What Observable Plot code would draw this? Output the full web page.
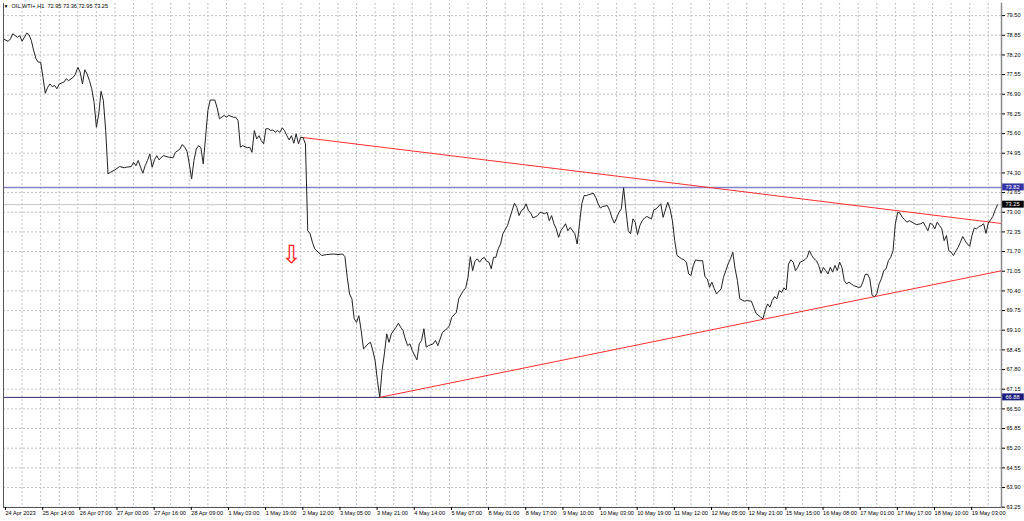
<!DOCTYPE html>
<html><head><meta charset="utf-8">
<script src="https://cdn.jsdelivr.net/npm/d3@7"></script>
<script src="https://cdn.jsdelivr.net/npm/@observablehq/plot@0.6"></script>
<style>
html,body{margin:0;padding:0;background:#fff;}
svg{display:block}
</style></head><body><div id="chart"></div>
<script>
// ---- data (hourly bars, OIL.WTI+ H1) ----
const bars = [0,2,3,4,6,7,8,10,11,12,13,14,15,16,17,18,19,20,21,22,23,24,26,27,28,30,31,32,33,34,35,36,37,38,39,40,41,42,43,44,45,46,48,50,52,53,55,56,57,58,59,60,61,62,63,64,65,66,67,68,69,71,73,74,76,77,78,79,80,81,82,83,84,85,86,87,88,89,91,92,93,95,96,97,99,100,101,102,103,105,106,107,108,109,110,111,112,113,114,115,116,117,118,119,120,121,122,123,124,125,126,127,128,129,130,131,132,133,134,137,139,142,144,146,147,148,149,150,151,152,153,154,155,157,158,159,160,161,162,163,164,165,166,167,169,170,171,172,173,174,175,176,178,179,180,181,182,183,185,186,187,188,189,191,192,193,195,196,198,199,200,201,202,203,204,205,206,207,208,209,210,211,212,213,214,215,217,218,219,220,221,222,223,224,225,226,227,228,230,231,233,234,235,236,237,238,239,240,241,242,243,244,246,247,248,249,250,251,252,254,255,256,257,258,260,261,262,263,264,265,266,267,268,269,270,271,272,273,274,275,276,277,279,280,281,283,284,286,287,288,289,290,292,293,294,295,296,297,298,299,300,301,302,303,304,305,306,307,309,310,311,312,313,314,315,316,317,318,319,320,322,323,324,326,327,328,329,330,331,332,333,334,335,336,337,338,339,340,341,342,343,344,345,346,347,348,349,350,351,352,353,354,355,356,357,358,359,360,361,362,363,364,365,366,368,369,370,371,372,373,374,375,376,377,378,379,380,381,382,383,384,385,386,387,388,389,390,392,393,395,396,397,398,399,400,401,402,403,404,405,406,407,408,409,410,411,412,413,414,415,416,417,418,419,420,421,422,423,424,425,426,427,428];
const closes = [78.73,78.65,78.73,78.90,78.78,78.84,78.65,78.92,78.87,78.67,78.34,78.07,77.96,77.96,77.46,76.93,77.13,77.24,77.15,77.19,77.08,77.24,77.30,77.41,77.35,77.46,77.57,77.79,77.63,77.24,77.71,77.57,77.35,77.08,76.63,75.81,76.25,77.00,76.69,75.70,74.27,74.32,74.40,74.51,74.47,74.49,74.51,74.65,74.54,74.71,74.49,74.29,74.54,74.71,74.93,74.49,74.73,74.87,74.73,74.82,74.87,74.82,74.80,74.98,75.09,75.24,75.15,75.02,74.60,74.10,74.71,75.09,75.20,75.13,74.60,75.48,76.36,76.71,76.71,76.45,76.09,76.20,76.14,76.20,76.14,76.14,76.03,75.15,75.20,75.13,75.15,74.98,75.70,75.42,75.53,75.37,75.26,75.76,75.76,75.70,75.72,75.64,75.70,75.64,75.79,75.70,75.53,75.39,75.53,75.28,75.59,75.26,75.48,75.46,75.26,72.39,72.29,72.01,71.79,71.57,71.60,71.62,71.60,71.62,71.53,70.85,70.30,70.14,69.48,69.36,69.58,69.09,68.48,68.65,68.70,68.43,68.10,67.44,66.88,67.77,68.32,68.98,68.70,68.98,69.20,69.33,69.20,69.09,68.81,68.59,68.65,68.43,68.12,68.65,68.76,69.15,68.54,68.59,68.65,68.76,68.59,68.81,69.03,69.15,69.25,69.53,69.69,70.14,70.41,70.50,70.85,71.53,71.07,71.38,71.46,71.35,71.46,71.51,71.38,71.35,71.13,71.51,71.51,71.79,71.95,72.29,72.56,72.81,73.06,73.30,73.16,72.89,73.06,73.11,73.28,73.06,72.97,72.81,72.89,73.00,72.95,73.00,72.72,72.89,72.62,72.45,72.17,72.39,72.50,72.62,72.39,72.50,72.29,71.95,72.62,73.28,73.55,73.55,73.58,73.63,73.49,73.28,73.14,73.19,73.22,73.06,72.81,72.64,72.81,73.00,73.11,73.81,73.06,72.39,72.29,72.78,72.67,72.26,72.56,72.72,72.81,72.86,72.78,73.08,73.11,73.28,72.83,73.33,73.11,72.72,72.06,71.57,71.46,71.43,71.35,70.96,70.91,71.24,71.43,71.40,71.40,71.40,70.87,70.80,70.52,70.69,70.47,70.30,70.47,70.85,71.07,71.29,71.46,71.68,71.13,70.74,70.14,70.10,70.06,70.08,70.06,69.86,69.66,69.53,69.48,69.77,69.97,69.86,70.08,70.21,70.14,70.41,70.35,70.50,70.43,71.29,71.43,71.35,71.07,71.18,71.35,71.38,71.43,71.51,71.73,71.57,71.46,71.40,71.24,70.98,71.18,71.07,70.96,71.18,71.02,71.24,71.07,71.35,71.18,70.74,70.63,70.69,70.63,70.58,70.52,70.52,70.69,70.94,70.96,70.80,70.25,70.21,70.30,70.63,70.80,71.07,71.13,71.40,71.51,71.73,72.62,73.00,72.97,72.83,72.75,72.67,72.72,72.64,72.59,72.62,72.67,72.53,72.39,72.64,72.59,72.45,72.67,72.56,72.45,72.06,72.23,71.73,71.68,71.57,71.71,71.84,72.01,72.20,72.06,71.95,71.87,72.23,72.48,72.45,72.53,72.56,72.62,72.30,72.64,72.75,72.86,73.08,73.25];

const xTickBars = [0,16,32,48,64,80,96,112,128,144,160,176,192,208,224,240,256,272,288,304,320,336,352,368,384,400,416];
const xTickLabels = ["24 Apr 2023","25 Apr 14:00","26 Apr 07:00","27 Apr 00:00","27 Apr 16:00","28 Apr 09:00","1 May 03:00","1 May 19:00","2 May 12:00","3 May 05:00","3 May 21:00","4 May 14:00","5 May 07:00","8 May 01:00","8 May 17:00","9 May 10:00","10 May 03:00","10 May 19:00","11 May 12:00","12 May 05:00","12 May 21:00","15 May 15:00","16 May 08:00","17 May 01:00","17 May 17:00","18 May 10:00","19 May 03:00"];
const yTicks = [63.25,63.90,64.55,65.20,65.85,66.50,67.15,67.80,68.45,69.10,69.75,70.40,71.05,71.70,72.35,73.00,73.65,74.30,74.95,75.60,76.25,76.90,77.55,78.20,78.85,79.50];

const upperTrendBars = [129, 385];
const upperTrendPrices = [75.47, 73.05];
const lowerTrendBars = [162, 375];
const lowerTrendPrices = [66.88, 70.21];

const resistanceLevel = 73.82;
const supportLevel = 66.88;
const bidPrice = 73.25;

const sellArrowBars = [124];
const sellArrowPrices = [71.60];

const titleText = "OIL.WTI+,H1  72.95 73.36 72.95 73.25";

// ---- build ----
const X_MAX = 429.7;
const data = bars.map((b, i) => ({bar: b, close: closes[i]}));
function ray(bs, ps) {
  const s = (ps[1] - ps[0]) / (bs[1] - bs[0]);
  return [{bar: bs[0], price: ps[0]}, {bar: X_MAX, price: ps[0] + s * (X_MAX - bs[0])}];
}
const levelBoxes = [
  {price: resistanceLevel, fill: "#3434a6"},
  {price: bidPrice, fill: "#000000"},
  {price: supportLevel, fill: "#1c1c7c"}
];
const FONT = "'Liberation Sans', Arial, sans-serif";
const FS = 5.6;

const chart = Plot.plot({
  width: 1024, height: 521,
  marginLeft: 3, marginRight: 23, marginTop: 3, marginBottom: 14,
  style: {fontFamily: FONT, fontSize: FS + "px", color: "#000", background: "#fff"},
  x: {domain: [0, X_MAX]},
  y: {domain: [63.24, 79.90]},
  marks: [
    Plot.gridX({ticks: d3.range(8, 430, 8), stroke: "#c2c2c2", strokeOpacity: 1, strokeDasharray: "2,2"}),
    Plot.gridY({ticks: yTicks, stroke: "#c2c2c2", strokeOpacity: 1, strokeDasharray: "2,2"}),
    Plot.ruleY([bidPrice], {stroke: "#c4c4c4", strokeWidth: 1}),
    Plot.ruleY([resistanceLevel], {stroke: "#8585cc", strokeWidth: 1.5}),
    Plot.ruleY([supportLevel], {stroke: "#2a2a6a", strokeWidth: 1}),
    Plot.line(ray(upperTrendBars, upperTrendPrices), {x: "bar", y: "price", stroke: "#ff2e2e", strokeWidth: 1}),
    Plot.line(ray(lowerTrendBars, lowerTrendPrices), {x: "bar", y: "price", stroke: "#ff2e2e", strokeWidth: 1}),
    Plot.line(data, {x: "bar", y: "close", stroke: "#222", strokeWidth: 1}),
    Plot.text(sellArrowBars, {x: d => d, y: (d, i) => sellArrowPrices[i], text: () => "⇩", fill: "#ff2020", fontSize: 25, fontFamily: "DejaVu Sans"}),
    Plot.frame({anchor: "left", stroke: "#555"}),
    Plot.frame({anchor: "bottom", stroke: "#555"}),
    Plot.frame({anchor: "right", stroke: "#8a8a8a", strokeWidth: 1.5}),
    Plot.axisX({ticks: xTickBars, tickFormat: d => xTickLabels[xTickBars.indexOf(d)], anchor: "bottom", textAnchor: "start", dx: 2, tickSize: 3, tickPadding: 1, label: null, fontSize: FS}),
    Plot.axisY({ticks: yTicks, tickFormat: d => d.toFixed(2), anchor: "right", tickSize: 3, tickPadding: 2, label: null, fontSize: FS}),
    Plot.rect(levelBoxes, {x1: X_MAX + 0.5, x2: X_MAX + 9.8, y1: d => d.price - 0.115, y2: d => d.price + 0.115, fill: "fill"}),
    Plot.text(levelBoxes, {x: X_MAX, y: "price", text: d => d.price.toFixed(2), dx: 4, textAnchor: "start", fill: "#fff", fontSize: FS}),
    Plot.text(["▼"], {frameAnchor: "top-left", dx: 0, dy: 1, fontSize: 5, fill: "#000"}),
    Plot.text([titleText], {frameAnchor: "top-left", dx: 8, dy: 1, fontSize: FS, fill: "#000"})
  ]
});
document.getElementById("chart").appendChild(chart);
</script></body></html>
